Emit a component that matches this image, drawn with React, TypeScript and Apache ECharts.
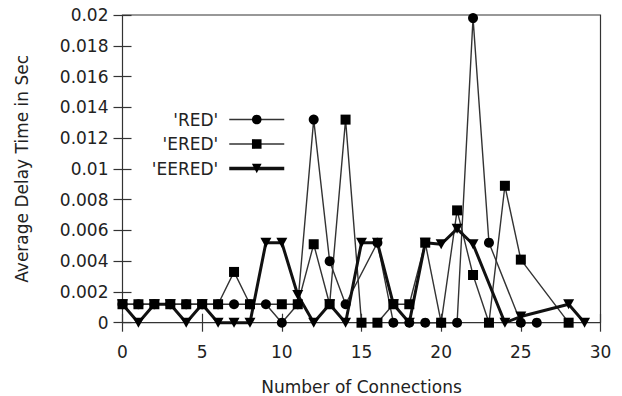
import React, { useEffect, useRef } from "react";
import * as echarts from "echarts";

const xTicks = [0, 5, 10, 15, 20, 25, 30];
const yTicks = [0, 0.002, 0.004, 0.006, 0.008, 0.01, 0.012, 0.014, 0.016, 0.018, 0.02];

const redX = [0, 1, 2, 3, 4, 5, 6, 7, 8, 9, 10, 11, 12, 13, 14, 16, 17, 18, 19, 20, 21, 22, 23, 25, 26];
const redY = [0.0012, 0.0012, 0.0012, 0.0012, 0.0012, 0.0012, 0.0012, 0.0012, 0.0012, 0.0012, 0, 0.0012, 0.0132, 0.004, 0.0012, 0.0052, 0, 0, 0, 0, 0, 0.0198, 0.0052, 0, 0];

const eredX = [0, 1, 2, 3, 4, 5, 6, 7, 8, 10, 11, 12, 13, 14, 15, 16, 17, 18, 19, 20, 21, 22, 23, 24, 25, 28];
const eredY = [0.0012, 0.0012, 0.0012, 0.0012, 0.0012, 0.0012, 0.0012, 0.0033, 0.0012, 0.0012, 0.0012, 0.0051, 0.0012, 0.0132, 0, 0, 0.0012, 0.0012, 0.0052, 0, 0.0073, 0.0031, 0, 0.0089, 0.0041, 0];

const eeredX = [0, 1, 2, 3, 4, 5, 6, 7, 8, 9, 10, 11, 12, 13, 14, 15, 16, 17, 18, 19, 20, 21, 22, 24, 25, 28, 29];
const eeredY = [0.0012, 0, 0.0012, 0.0012, 0, 0.0012, 0, 0, 0, 0.0052, 0.0052, 0.0018, 0, 0.0012, 0, 0.0052, 0.0052, 0.0012, 0, 0.0052, 0.0051, 0.0061, 0.0051, 0, 0.0004, 0.0012, 0];

const seriesNames = ["'RED'", "'ERED'", "'EERED'"];

const zip = (xs: number[], ys: number[]) => xs.map((x, i) => [x, ys[i]]);

const FONT = "DejaVu Sans";
const TEXT = "#222";
const fmtY = (v: number) => String(parseFloat(v.toFixed(3)));

export default function App() {
  const ref = useRef<HTMLDivElement>(null);
  useEffect(() => {
    if (!ref.current) return;
    const chart = echarts.init(ref.current, undefined, { renderer: "svg" });
    const grid = { left: 122.5, right: 21.5, top: 15, bottom: 73.3 };
    const tri = "path://M0,0 L10,0 L5,9 Z";
    const tick = { show: true, inside: true, length: 9, lineStyle: { color: "#333", width: 1.2 } };
    chart.setOption({
      animation: false,
      backgroundColor: "#fff",
      textStyle: { fontFamily: FONT },
      grid: {
        ...grid,
        containLabel: false,
        outerBoundsMode: "none",
        show: true,
        borderColor: "#333",
        borderWidth: 1.2,
        backgroundColor: "transparent",
      },
      legend: {
        orient: "vertical",
        align: "right",
        right: 336,
        top: 111,
        padding: 0,
        itemWidth: 55,
        itemHeight: 12,
        itemGap: 7.5,
        textStyle: { fontFamily: FONT, fontSize: 17, color: TEXT, padding: [0, 6, 0, 0] },
        data: [
          { name: seriesNames[0], lineStyle: { width: 1.4, color: "#333" } },
          { name: seriesNames[1], lineStyle: { width: 1.4, color: "#333" } },
          { name: seriesNames[2], lineStyle: { width: 3.5, color: "#111" } },
        ],
      },
      xAxis: [
        {
          type: "value",
          min: 0,
          max: 30,
          interval: 5,
          name: "Number of Connections",
          nameLocation: "middle",
          nameGap: 56,
          nameTextStyle: { fontFamily: FONT, fontSize: 17, color: TEXT },
          axisLine: { show: false },
          axisTick: tick,
          axisLabel: { fontFamily: FONT, fontSize: 17, color: TEXT, margin: 21, formatter: (v: number) => (xTicks.includes(v) ? String(v) : "") },
          splitLine: { show: false },
        },
        {
          type: "value",
          position: "top",
          min: 0,
          max: 30,
          interval: 5,
          axisLine: { show: false },
          axisTick: tick,
          axisLabel: { show: false },
          splitLine: { show: false },
        },
      ],
      yAxis: [
        {
          type: "value",
          min: 0,
          max: 0.02,
          interval: 0.002,
          name: "Average Delay Time in Sec",
          nameLocation: "middle",
          nameGap: 92,
          nameTextStyle: { fontFamily: FONT, fontSize: 17, color: TEXT },
          axisLine: { show: false },
          axisTick: tick,
          axisLabel: { fontFamily: FONT, fontSize: 17, color: TEXT, margin: 14, formatter: (v: number) => (yTicks.some((t) => Math.abs(t - v) < 1e-9) ? fmtY(v) : "") },
          splitLine: { show: false },
        },
        {
          type: "value",
          position: "right",
          min: 0,
          max: 0.02,
          interval: 0.002,
          axisLine: { show: false },
          axisTick: tick,
          axisLabel: { show: false },
          splitLine: { show: false },
        },
      ],
      series: [
        {
          name: seriesNames[0],
          type: "line",
          data: zip(redX, redY),
          symbol: "circle",
          symbolSize: 10,
          clip: false,
          lineStyle: { color: "#333", width: 1.4 },
          itemStyle: { color: "#000" },
        },
        {
          name: seriesNames[1],
          type: "line",
          data: zip(eredX, eredY),
          symbol: "rect",
          symbolSize: 10,
          clip: false,
          lineStyle: { color: "#333", width: 1.4 },
          itemStyle: { color: "#000" },
        },
        {
          name: seriesNames[2],
          type: "line",
          data: zip(eeredX, eeredY),
          symbol: tri,
          symbolSize: [11, 10],
          clip: false,
          lineStyle: { color: "#111", width: 3 },
          itemStyle: { color: "#000" },
        },
      ],
    });
    return () => chart.dispose();
  }, []);
  return <div ref={ref} style={{ position: "fixed", left: 0, top: 0, width: 622, height: 396 }} />;
}
